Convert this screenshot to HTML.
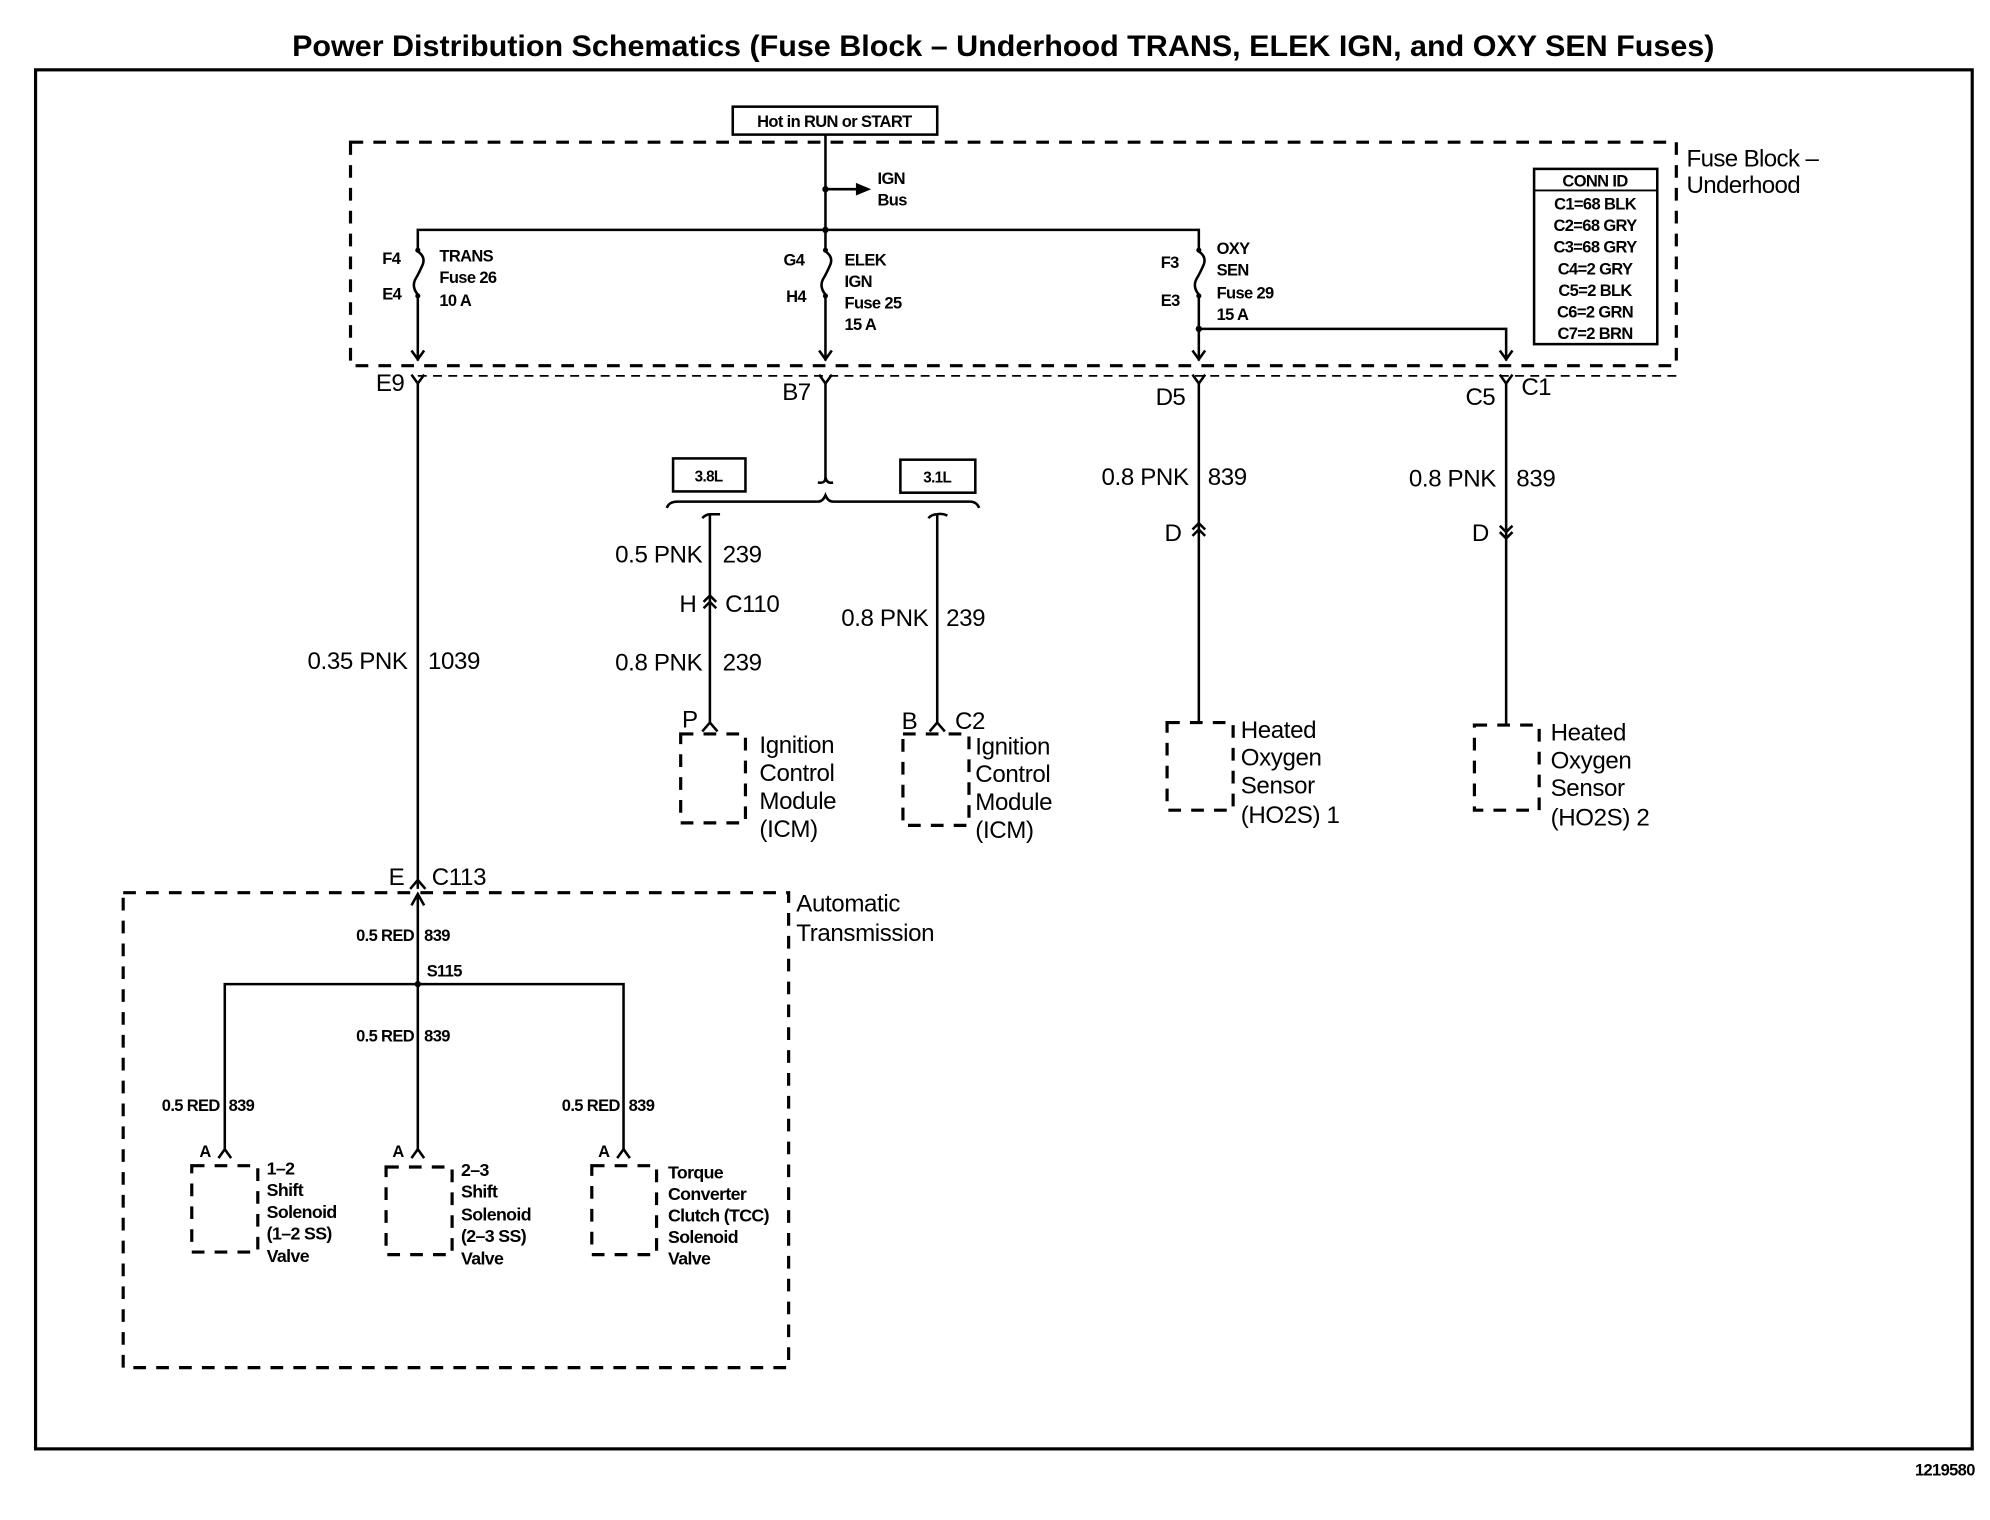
<!DOCTYPE html>
<html><head><meta charset="utf-8"><style>
html,body{margin:0;padding:0;background:#fff}
svg{display:block}
text{font-family:"Liberation Sans",sans-serif;fill:#000}
.s{font-size:13px;font-weight:bold;letter-spacing:-0.5px}
.m{font-size:18px;font-weight:bold;letter-spacing:-0.5px}
.l{font-size:19px;letter-spacing:-0.3px}
.w{stroke:#000;stroke-width:2;fill:none}
.d{stroke:#000;stroke-width:2.5;fill:none;stroke-dasharray:10 8}
</style></head><body>
<svg width="1990" height="1520" viewBox="0 0 1567 1197" preserveAspectRatio="none" xmlns="http://www.w3.org/2000/svg">
<rect width="1567" height="1197" fill="#fff"/>
<text x="230" y="44" textLength="1120" lengthAdjust="spacingAndGlyphs" style="font-size:23px;font-weight:bold">Power Distribution Schematics (Fuse Block – Underhood TRANS, ELEK IGN, and OXY SEN Fuses)</text>
<rect x="28" y="55" width="1525" height="1086" fill="none" stroke="#000" stroke-width="2.5"/>
<text x="1555" y="1162" text-anchor="end" class="s">1219580</text>

<rect x="577" y="84" width="161" height="22" fill="none" stroke="#000" stroke-width="2"/>
<text x="657" y="100" text-anchor="middle" class="s">Hot in RUN or START</text>

<rect x="276" y="112" width="1044" height="176" class="d"/>
<text x="1328" y="131" class="m" style="font-weight:normal;font-size:19px">Fuse Block –</text>
<text x="1328" y="152" class="m" style="font-weight:normal;font-size:19px">Underhood</text>
<rect x="1208" y="133" width="97" height="138" fill="none" stroke="#000" stroke-width="2"/>
<line x1="1208" y1="150" x2="1305" y2="150" stroke="#000" stroke-width="1.5"/>
<g class="s" text-anchor="middle">
<text x="1256" y="147">CONN ID</text>
<text x="1256" y="165">C1=68 BLK</text>
<text x="1256" y="182">C2=68 GRY</text>
<text x="1256" y="199">C3=68 GRY</text>
<text x="1256" y="216">C4=2 GRY</text>
<text x="1256" y="233">C5=2 BLK</text>
<text x="1256" y="250">C6=2 GRN</text>
<text x="1256" y="267">C7=2 BRN</text>
</g>

<line x1="650" y1="106" x2="650" y2="198" class="w"/>
<circle cx="650" cy="149" r="2.5"/>
<line x1="650" y1="149" x2="676" y2="149" class="w"/>
<path d="M674,144 L686,149 L674,154 Z"/>
<text x="691" y="145" class="s">IGN</text>
<text x="691" y="162" class="s">Bus</text>
<path d="M329,198 L329,181 L944,181 L944,198" class="w"/>
<circle cx="650" cy="181" r="2.5"/>

<g class="w">
<path d="M329,198 q6,4 4,10 q-3,7 -6,12 q-3,6 2,12"/>
<path d="M650,198 q6,4 4,10 q-3,7 -6,12 q-3,6 2,12"/>
<path d="M944,198 q6,4 4,10 q-3,7 -6,12 q-3,6 2,12"/>
</g>
<circle cx="329" cy="197" r="2"/><circle cx="329" cy="233" r="2"/>
<circle cx="650" cy="197" r="2"/><circle cx="650" cy="233" r="2"/>
<circle cx="944" cy="197" r="2"/><circle cx="944" cy="233" r="2"/>
<line x1="329" y1="233" x2="329" y2="284" class="w"/>
<line x1="650" y1="233" x2="650" y2="284" class="w"/>
<line x1="944" y1="233" x2="944" y2="284" class="w"/>
<path d="M944,259 L1186,259 L1186,284" class="w"/>
<circle cx="944" cy="259" r="2.5"/>
<g class="w" stroke-width="1.6">
<path d="M324,276 L329,283 L334,276"/><path d="M645,276 L650,283 L655,276"/>
<path d="M939,276 L944,283 L949,276"/><path d="M1181,276 L1186,283 L1191,276"/>
</g>
<g class="s">
<text x="301" y="208">F4</text><text x="301" y="236">E4</text>
<text x="346" y="206">TRANS</text><text x="346" y="223">Fuse 26</text><text x="346" y="241">10 A</text>
<text x="617" y="209">G4</text><text x="619" y="238">H4</text>
<text x="665" y="209">ELEK</text><text x="665" y="226">IGN</text><text x="665" y="243">Fuse 25</text><text x="665" y="260">15 A</text>
<text x="914" y="211">F3</text><text x="914" y="241">E3</text>
<text x="958" y="200">OXY</text><text x="958" y="217">SEN</text><text x="958" y="235">Fuse 29</text><text x="958" y="252">15 A</text>
</g>

<line x1="329" y1="296" x2="1320" y2="296" stroke="#000" stroke-width="1.3" stroke-dasharray="7 5"/>
<g class="w" stroke-width="1.6">
<path d="M324,295 L329,302 L334,295"/><path d="M645,295 L650,302 L655,295"/>
<path d="M939,295 L944,302 L949,295"/><path d="M1181,295 L1186,302 L1191,295"/>
</g>
<g class="m" style="font-weight:normal;font-size:19px">
<text x="296" y="308">E9</text><text x="616" y="315">B7</text>
<text x="910" y="319">D5</text><text x="1154" y="319">C5</text><text x="1198" y="311">C1</text>
</g>

<line x1="329" y1="302" x2="329" y2="700" class="w"/>
<text x="321" y="527" text-anchor="end" class="l">0.35 PNK</text>
<text x="337" y="527" class="l">1039</text>
<path d="M323,700 L329,693 L335,700" class="w" stroke-width="1.6"/>
<text x="306" y="697" class="l">E</text><text x="340" y="697" class="l">C113</text>

<rect x="97" y="703" width="524" height="374" class="d"/>
<text x="627" y="718" class="l">Automatic</text>
<text x="627" y="741" class="l">Transmission</text>
<line x1="329" y1="705" x2="329" y2="905" class="w"/>
<path d="M324,713 L329,704 L334,713" class="w" stroke-width="1.6"/>
<circle cx="329" cy="775" r="2.5"/>
<path d="M177,905 L177,775 L491,775 L491,905" class="w"/>
<text x="336" y="769" class="s">S115</text>
<g class="s">
<text x="326" y="741" text-anchor="end">0.5 RED</text><text x="334" y="741">839</text>
<text x="326" y="820" text-anchor="end">0.5 RED</text><text x="334" y="820">839</text>
<text x="173" y="875" text-anchor="end">0.5 RED</text><text x="180" y="875">839</text>
<text x="488" y="875" text-anchor="end">0.5 RED</text><text x="495" y="875">839</text>
</g>
<g class="w" stroke-width="1.6">
<path d="M172,912 L177,905 L182,912"/><path d="M324,912 L329,905 L334,912"/><path d="M486,912 L491,905 L496,912"/>
</g>
<g class="s"><text x="157" y="911">A</text><text x="309" y="911">A</text><text x="471" y="911">A</text></g>
<g stroke="#000" stroke-width="2.5" fill="none" stroke-dasharray="10 8">
<rect x="151" y="918" width="52" height="68"/>
<rect x="304" y="919" width="52" height="69"/>
<rect x="466" y="918" width="51" height="70"/>
</g>
<g class="s" style="font-size:14px">
<text x="210" y="925">1–2</text><text x="210" y="942">Shift</text><text x="210" y="959">Solenoid</text><text x="210" y="976">(1–2 SS)</text><text x="210" y="994">Valve</text>
<text x="363" y="926">2–3</text><text x="363" y="943">Shift</text><text x="363" y="961">Solenoid</text><text x="363" y="978">(2–3 SS)</text><text x="363" y="996">Valve</text>
<text x="526" y="928">Torque</text><text x="526" y="945">Converter</text><text x="526" y="962">Clutch (TCC)</text><text x="526" y="979">Solenoid</text><text x="526" y="996">Valve</text>
</g>

<line x1="650" y1="302" x2="650" y2="378" class="w"/>
<path d="M644,380 Q650,381 650,376 M650,376 Q651,381 656,380" class="w" stroke-width="1.6"/>
<rect x="530" y="361" width="57" height="26" fill="none" stroke="#000" stroke-width="2"/>
<text x="558" y="379" text-anchor="middle" class="s" style="font-size:12px">3.8L</text>
<rect x="709" y="362" width="59" height="26" fill="none" stroke="#000" stroke-width="2"/>
<text x="738" y="380" text-anchor="middle" class="s" style="font-size:12px">3.1L</text>
<path d="M525,400 Q527,395 533,395 L644,395 Q648,395 650,390 Q652,395 656,395 L764,395 Q769,395 771,400" class="w" stroke-width="1.6"/>
<path d="M553,408 Q556,405 559,405 L559,570 M559,405 Q563,405 567,405" class="w"/>
<text x="553" y="443" text-anchor="end" class="l">0.5 PNK</text><text x="569" y="443" class="l">239</text>
<path d="M554,474 L559,469 L564,474 M554,479 L559,474 L564,479" class="w" stroke-width="1.6"/>
<text x="535" y="482" class="l">H</text><text x="571" y="482" class="l">C110</text>
<text x="553" y="528" text-anchor="end" class="l">0.8 PNK</text><text x="569" y="528" class="l">239</text>
<path d="M553,576 L559,569 L565,576" class="w" stroke-width="1.6"/>
<text x="537" y="573" class="l">P</text>
<rect x="536" y="578" width="51" height="70" class="d"/>
<g class="l"><text x="598" y="593">Ignition</text><text x="598" y="615">Control</text><text x="598" y="637">Module</text><text x="598" y="659">(ICM)</text></g>
<path d="M731,408 Q734,405 738,405 L738,570 M738,405 Q742,404 746,406" class="w"/>
<text x="731" y="493" text-anchor="end" class="l">0.8 PNK</text><text x="745" y="493" class="l">239</text>
<path d="M732,576 L738,569 L744,576" class="w" stroke-width="1.6"/>
<text x="710" y="574" class="l">B</text><text x="752" y="574" class="l">C2</text>
<rect x="711" y="578" width="52" height="72" class="d"/>
<g class="l"><text x="768" y="594">Ignition</text><text x="768" y="616">Control</text><text x="768" y="638">Module</text><text x="768" y="660">(ICM)</text></g>

<line x1="944" y1="302" x2="944" y2="570" class="w"/>
<text x="936" y="382" text-anchor="end" class="l">0.8 PNK</text><text x="951" y="382" class="l">839</text>
<path d="M939,417 L944,412 L949,417 M939,422 L944,417 L949,422" class="w" stroke-width="1.6"/>
<text x="917" y="426" class="l">D</text>
<rect x="919" y="569" width="52" height="69" class="d"/>
<g class="l"><text x="977" y="581">Heated</text><text x="977" y="603">Oxygen</text><text x="977" y="625">Sensor</text><text x="977" y="648">(HO2S) 1</text></g>

<line x1="1186" y1="302" x2="1186" y2="572" class="w"/>
<text x="1178" y="383" text-anchor="end" class="l">0.8 PNK</text><text x="1194" y="383" class="l">839</text>
<path d="M1181,414 L1186,419 L1191,414 M1181,419 L1186,424 L1191,419" class="w" stroke-width="1.6"/>
<text x="1159" y="426" class="l">D</text>
<rect x="1161" y="571" width="51" height="67" class="d"/>
<g class="l"><text x="1221" y="583">Heated</text><text x="1221" y="605">Oxygen</text><text x="1221" y="627">Sensor</text><text x="1221" y="650">(HO2S) 2</text></g>
</svg>
</body></html>
